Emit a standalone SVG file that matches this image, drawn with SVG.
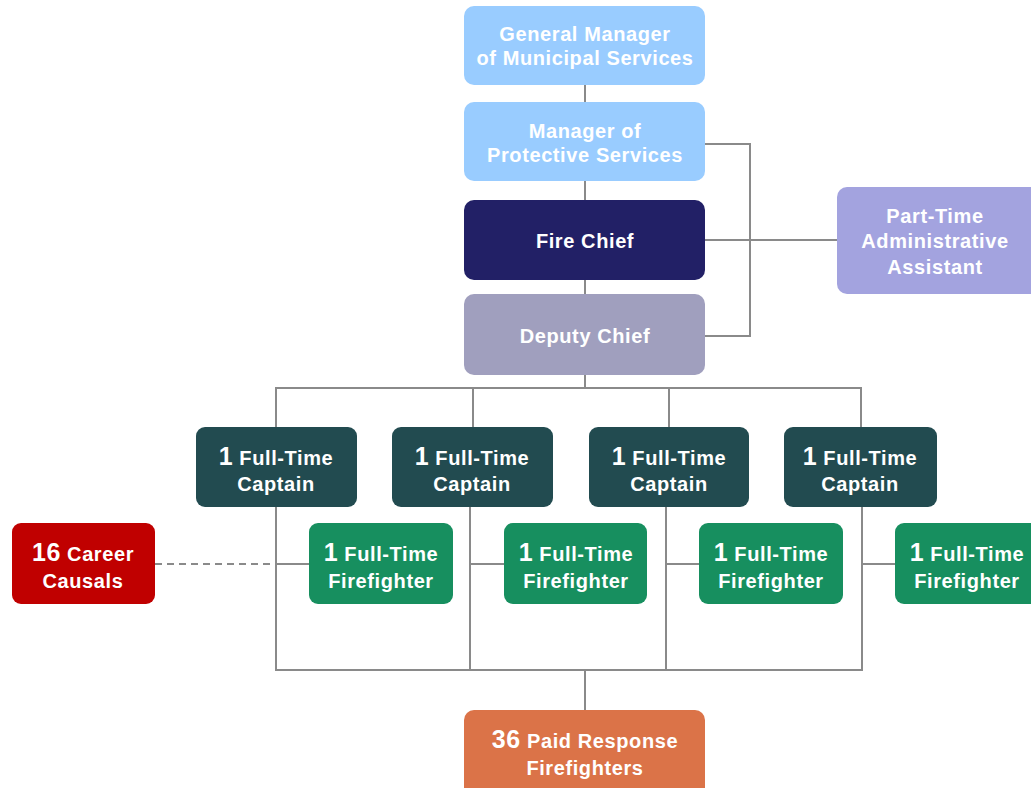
<svg xmlns="http://www.w3.org/2000/svg" width="1031" height="788" viewBox="0 0 1031 788">
  <style>
    .box { stroke: none; }
    .t { font-family: "Liberation Sans", Arial, sans-serif; font-weight: bold; font-size: 20px; letter-spacing: 0.6px; fill: #ffffff; text-anchor: middle; }
    .n { font-size: 25px; }
    .ln { fill: none; stroke: #8a8a8a; stroke-width: 2; }
    .dash { fill: none; stroke: #8a8a8a; stroke-width: 2; stroke-dasharray: 7 5; }
  </style>
  <rect width="1031" height="788" fill="#ffffff"/>

  <!-- connectors -->
  <g id="connectors">
    <path class="ln" d="M585 84 V102 M585 181 V200 M585 280 V294 M585 375 V388"/>
    <path class="ln" d="M705 144 H750 V336 H705 M705 240 H837"/>
    <path class="ln" d="M276 427 V388 H861 V427 M473 388 V427 M669 388 V427"/>
    <path class="ln" d="M276 507 V670 H862 V507 M470 507 V670 M666 507 V670"/>
    <path class="ln" d="M276 564 H309 M470 564 H504 M666 564 H699 M862 564 H895"/>
    <path class="ln" d="M585 670 V710"/>
    <path class="dash" d="M155 564 H276"/>
  </g>

  <g id="general-manager">
    <rect class="box" x="464" y="6" width="241" height="79" rx="10" fill="#99ccff"/>
    <text class="t" x="585" y="41">General Manager</text>
    <text class="t" x="585" y="65">of Municipal Services</text>
  </g>
  <g id="manager-protective">
    <rect class="box" x="464" y="102" width="241" height="79" rx="10" fill="#99ccff"/>
    <text class="t" x="585" y="138">Manager of</text>
    <text class="t" x="585" y="162">Protective Services</text>
  </g>
  <g id="fire-chief">
    <rect class="box" x="464" y="200" width="241" height="80" rx="10" fill="#222066"/>
    <text class="t" x="585" y="248">Fire Chief</text>
  </g>
  <g id="deputy-chief">
    <rect class="box" x="464" y="294" width="241" height="81" rx="10" fill="#a09fbe"/>
    <text class="t" x="585" y="343">Deputy Chief</text>
  </g>
  <g id="admin-assistant">
    <rect class="box" x="837" y="187" width="204" height="107" rx="10" fill="#a3a3df"/>
    <text class="t" x="935" y="223">Part-Time</text>
    <text class="t" x="935" y="248">Administrative</text>
    <text class="t" x="935" y="274">Assistant</text>
  </g>

  <g id="captain-1">
    <rect class="box" x="196" y="427" width="161" height="80" rx="9" fill="#224b50"/>
    <text class="t" x="276" y="465"><tspan class="n">1</tspan> Full-Time</text>
    <text class="t" x="276" y="491">Captain</text>
  </g>
  <g id="captain-2">
    <rect class="box" x="392" y="427" width="161" height="80" rx="9" fill="#224b50"/>
    <text class="t" x="472" y="465"><tspan class="n">1</tspan> Full-Time</text>
    <text class="t" x="472" y="491">Captain</text>
  </g>
  <g id="captain-3">
    <rect class="box" x="589" y="427" width="160" height="80" rx="9" fill="#224b50"/>
    <text class="t" x="669" y="465"><tspan class="n">1</tspan> Full-Time</text>
    <text class="t" x="669" y="491">Captain</text>
  </g>
  <g id="captain-4">
    <rect class="box" x="784" y="427" width="153" height="80" rx="9" fill="#224b50"/>
    <text class="t" x="860" y="465"><tspan class="n">1</tspan> Full-Time</text>
    <text class="t" x="860" y="491">Captain</text>
  </g>

  <g id="career-causals">
    <rect class="box" x="12" y="523" width="143" height="81" rx="9" fill="#c00000"/>
    <text class="t" x="83" y="561"><tspan class="n">16</tspan> Career</text>
    <text class="t" x="83" y="588">Causals</text>
  </g>

  <g id="firefighter-1">
    <rect class="box" x="309" y="523" width="144" height="81" rx="9" fill="#178f5f"/>
    <text class="t" x="381" y="561"><tspan class="n">1</tspan> Full-Time</text>
    <text class="t" x="381" y="588">Firefighter</text>
  </g>
  <g id="firefighter-2">
    <rect class="box" x="504" y="523" width="143" height="81" rx="9" fill="#178f5f"/>
    <text class="t" x="576" y="561"><tspan class="n">1</tspan> Full-Time</text>
    <text class="t" x="576" y="588">Firefighter</text>
  </g>
  <g id="firefighter-3">
    <rect class="box" x="699" y="523" width="144" height="81" rx="9" fill="#178f5f"/>
    <text class="t" x="771" y="561"><tspan class="n">1</tspan> Full-Time</text>
    <text class="t" x="771" y="588">Firefighter</text>
  </g>
  <g id="firefighter-4">
    <rect class="box" x="895" y="523" width="144" height="81" rx="9" fill="#178f5f"/>
    <text class="t" x="967" y="561"><tspan class="n">1</tspan> Full-Time</text>
    <text class="t" x="967" y="588">Firefighter</text>
  </g>

  <g id="paid-response">
    <rect class="box" x="464" y="710" width="241" height="90" rx="10" fill="#db7348"/>
    <text class="t" x="585" y="748"><tspan class="n">36</tspan> Paid Response</text>
    <text class="t" x="585" y="775">Firefighters</text>
  </g>
</svg>
